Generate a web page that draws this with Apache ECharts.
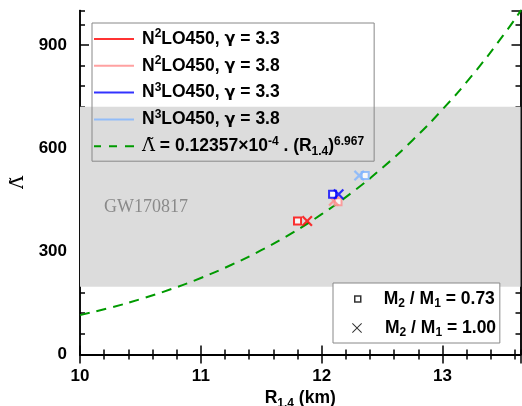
<!DOCTYPE html>
<html>
<head>
<meta charset="utf-8">
<script src="https://cdn.jsdelivr.net/npm/echarts@6/dist/echarts.min.js"></script>
<style>html,body{margin:0;padding:0;background:#fff}#c{width:522px;height:406px}</style>
</head>
<body>
<div id="c"></div>
<script>
// ---- data ----
const xTicks = [10, 11, 12, 13];
const yTicks = [0, 300, 600, 900];
const bandRange = [197, 720];             // GW170817 constraint band
const fitR =      [10, 10.25, 10.5, 10.75, 11, 11.25, 11.5, 11.75, 12, 12.25, 12.5, 12.75, 13, 13.25, 13.5, 13.65];
const fitLambda = [114.5, 136.0, 160.9, 189.6, 222.5, 260.2, 303.3, 352.3, 407.9, 470.9, 542.1, 622.3, 712.5, 813.6, 926.8, 1001.0];
// each EOS: [square (M2/M1=0.73)], [cross (M2/M1=1.00)]
const n2g33 = [[11.80, 388], [11.88, 388]];
const n2g38 = [[12.135, 444], [12.10, 447]];
const n3g33 = [[12.09, 466], [12.14, 466]];
const n3g38 = [[12.36, 520], [12.31, 520]];

const FONT = 'Liberation Sans, Arial, sans-serif';
const CROSS = 'path://M0,1.4L1.4,0L5,3.6L8.6,0L10,1.4L6.4,5L10,8.6L8.6,10L5,6.4L1.4,10L0,8.6L3.6,5Z';
const CROSS_THIN = 'path://M0,0.7L0.7,0L5,4.3L9.3,0L10,0.7L5.7,5L10,9.3L9.3,10L5,5.7L0.7,10L0,9.3L4.3,5Z';
const DASH_ICON = 'path://M0,0h7v2h-7z M15,0h8v2h-8z M31,0h9v2h-9z';

const rich = {
  b: {fontFamily: FONT, fontWeight: 'bold', fontSize: 17.5, lineHeight: 22, color: '#000'},
  g: {fontFamily: 'DejaVu Sans, sans-serif', fontWeight: 'bold', fontSize: 16, lineHeight: 22, color: '#000'},
  sup: {fontFamily: FONT, fontWeight: 'bold', fontSize: 12, lineHeight: 12, verticalAlign: 'top', color: '#000'},
  sub: {fontFamily: FONT, fontWeight: 'bold', fontSize: 12, lineHeight: 12, verticalAlign: 'bottom', color: '#000'},
  l: {fontFamily: 'DejaVu Serif, serif', fontSize: 18, lineHeight: 22, color: '#000'},
  sp3: {width: 3},
  sp18: {width: 18}
};

const names = {
  'N2LO450, g=3.3': '{sp3|}{b|N}{sup|2}{b|LO450, }{g|γ}{b| = 3.3}',
  'N2LO450, g=3.8': '{sp3|}{b|N}{sup|2}{b|LO450, }{g|γ}{b| = 3.8}',
  'N3LO450, g=3.3': '{sp3|}{b|N}{sup|3}{b|LO450, }{g|γ}{b| = 3.3}',
  'N3LO450, g=3.8': '{sp3|}{b|N}{sup|3}{b|LO450, }{g|γ}{b| = 3.8}',
  'fit': '{sp3|}{l|Λ̃}{b| = 0.12357×10}{sup|-4}{b| . (R}{sub|1.4}{b|)}{sup|6.967}',
  'r073': '{sp18|}{b|M}{sub|2}{b| / M}{sub|1}{b| = 0.73}',
  'r100': '{sp18|}{b|M}{sub|2}{b| / M}{sub|1}{b| = 1.00}'
};

function eos(name, color, pts) {
  return {
    name: name, type: 'scatter', xAxisIndex: 0, yAxisIndex: 0, z: 5,
    data: [
      {value: pts[0], symbol: 'rect', symbolSize: 7, itemStyle: {color: '#fff', borderColor: color, borderWidth: 2}},
      {value: pts[1], symbol: CROSS, symbolSize: 11, itemStyle: {color: color, borderWidth: 0}}
    ]
  };
}

const lineAx = {show: true, lineStyle: {color: '#000', width: 1.5}};
function xAx(pos, major, labels) {
  return {
    type: 'value', min: 10, max: 13.645, interval: major ? 1 : 0.2, position: pos,
    axisLine: lineAx,
    axisTick: {show: true, inside: true, length: major ? 9 : 5, lineStyle: {color: '#000', width: 1.5}},
    axisLabel: {show: labels, color: '#000', fontFamily: FONT, fontWeight: 'bold', fontSize: 17, margin: 13,
      showMaxLabel: false, formatter: v => xTicks.includes(v) ? String(v) : ''},
    splitLine: {show: false},
    name: labels ? '{b|R}{sub|1.4}{b| (km)}' : '', nameLocation: 'middle', nameGap: 30,
    nameTextStyle: {rich: rich}
  };
}
function yAx(pos, major, labels) {
  return {
    type: 'value', min: 0, max: 1000, interval: major ? 300 : 60, position: pos,
    axisLine: lineAx,
    axisTick: {show: true, inside: true, length: major ? 9 : 5, lineStyle: {color: '#000', width: 1.5}},
    axisLabel: {show: labels, color: '#000', fontFamily: FONT, fontWeight: 'bold', fontSize: 17, margin: 13,
      showMaxLabel: false, formatter: v => yTicks.includes(v) ? String(v) : ''},
    splitLine: {show: false},
    name: labels ? '{l|Λ̃}' : '', nameLocation: 'middle', nameGap: 46, nameRotate: 90,
    nameTextStyle: {rich: rich}
  };
}

const chart = echarts.init(document.getElementById('c'), null, {renderer: 'canvas'});
chart.setOption({
  animation: false,
  backgroundColor: '#fff',
  grid: {left: 80, right: 1.5, top: 10.5, bottom: 51.5, containLabel: false, outerBoundsMode: 'none'},
  xAxis: [xAx('bottom', true, true), xAx('bottom', false, false), xAx('top', true, false), xAx('top', false, false)],
  yAxis: [yAx('left', true, true), yAx('left', false, false), yAx('right', true, false), yAx('right', false, false)],
  legend: [
    {
      left: 92, top: 23, orient: 'vertical', padding: [5, 10, 4, 2], itemGap: 6.8,
      itemWidth: 40, itemHeight: 2,
      borderColor: '#888', borderWidth: 1, backgroundColor: 'transparent',
      selectedMode: false,
      formatter: n => names[n], textStyle: {rich: rich},
      data: [
        {name: 'N2LO450, g=3.3', icon: 'rect', itemStyle: {color: '#ff0000', borderWidth: 0}},
        {name: 'N2LO450, g=3.8', icon: 'rect', itemStyle: {color: '#ff8a8a', borderWidth: 0}},
        {name: 'N3LO450, g=3.3', icon: 'rect', itemStyle: {color: '#0000ff', borderWidth: 0}},
        {name: 'N3LO450, g=3.8', icon: 'rect', itemStyle: {color: '#80b4ff', borderWidth: 0}},
        {name: 'fit', icon: DASH_ICON, itemStyle: {color: '#009a00', borderWidth: 0}}
      ]
    },
    {
      left: 333, top: 283, orient: 'vertical', padding: [7, 5, 33, 21],
      itemWidth: 6, itemHeight: 6,
      borderColor: '#888', borderWidth: 1, backgroundColor: '#fff',
      selectedMode: false,
      formatter: n => names[n], textStyle: {rich: rich},
      data: [{name: 'r073', icon: 'rect', itemStyle: {color: '#fff', borderColor: '#000', borderWidth: 1.5}}]
    },
    {
      left: 352, top: 319, orient: 'vertical', padding: 0,
      itemWidth: 10, itemHeight: 10,
      borderWidth: 0, backgroundColor: 'transparent',
      selectedMode: false,
      formatter: n => names[n], textStyle: {rich: rich},
      data: [{name: 'r100', icon: CROSS_THIN, itemStyle: {color: '#000', borderWidth: 0}}]
    }
  ],
  series: [
    {
      name: 'fit', type: 'line', xAxisIndex: 0, yAxisIndex: 0, smooth: true, symbol: 'none', z: 3,
      data: fitR.map((r, i) => [r, fitLambda[i]]),
      lineStyle: {color: '#009a00', width: 2, type: [10, 7]},
      itemStyle: {color: '#009a00'},
      markArea: {
        silent: true,
        itemStyle: {color: '#dcdcdc'},
        label: {show: true, position: 'insideLeft', distance: 24, offset: [0, 10],
          color: '#8a8a8a', fontFamily: 'Liberation Serif, serif', fontSize: 18},
        data: [[{name: 'GW170817', yAxis: bandRange[0]}, {yAxis: bandRange[1]}]]
      }
    },
    eos('N2LO450, g=3.3', '#ff0000', n2g33),
    eos('N2LO450, g=3.8', '#ff8a8a', n2g38),
    eos('N3LO450, g=3.3', '#0000ff', n3g33),
    eos('N3LO450, g=3.8', '#80b4ff', n3g38),
    {name: 'r073', type: 'scatter', data: [], symbol: 'rect', itemStyle: {color: '#fff', borderColor: '#000'}},
    {name: 'r100', type: 'scatter', data: [], symbol: CROSS_THIN, itemStyle: {color: '#000'}}
  ]
});
</script>
</body>
</html>
